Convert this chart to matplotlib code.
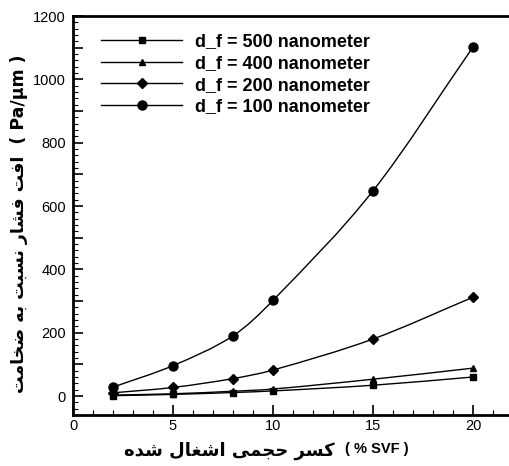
import matplotlib
matplotlib.use("Agg")
import matplotlib.pyplot as plt
from matplotlib.ticker import MultipleLocator, FuncFormatter
from matplotlib import font_manager
from matplotlib.ft2font import FT2Font
from matplotlib.path import Path
from matplotlib.patches import PathPatch
from matplotlib.lines import Line2D

# ---------------- data ----------------
svf = [2, 5, 8, 10, 15, 20]
dp_500 = [1, 5, 11, 16, 34, 60]
dp_400 = [3, 7, 15, 22, 53, 88]
dp_200 = [10, 27, 55, 82, 180, 312]
dp_100 = [28, 96, 190, 302, 648, 1102]
labels = ["d_f = 500 nanometer", "d_f = 400 nanometer",
          "d_f = 200 nanometer", "d_f = 100 nanometer"]
xlabel_fa = "کسر حجمی اشغال شده"
xlabel_en = "( % SVF )"
ylabel_fa = "افت فشار نسبت به ضخامت"
ylabel_en = "( Pa/µm )"

# ------------- minimal Arabic/Persian shaping -------------
bold_path = font_manager.findfont(font_manager.FontProperties(family="DejaVu Sans", weight="bold"))
try:
    cmap = FT2Font(bold_path).get_charmap()
except Exception:
    cmap = {}

def has(ch):
    return ord(ch) in cmap

# (isolated, final, initial, medial)
FORMS = {
    'ا': ('\uFE8D', '\uFE8E', None, None),
    'ب': ('\uFE8F', '\uFE90', '\uFE91', '\uFE92'),
    'ت': ('\uFE95', '\uFE96', '\uFE97', '\uFE98'),
    'ج': ('\uFE9D', '\uFE9E', '\uFE9F', '\uFEA0'),
    'ح': ('\uFEA1', '\uFEA2', '\uFEA3', '\uFEA4'),
    'خ': ('\uFEA5', '\uFEA6', '\uFEA7', '\uFEA8'),
    'د': ('\uFEA9', '\uFEAA', None, None),
    'ر': ('\uFEAD', '\uFEAE', None, None),
    'س': ('\uFEB1', '\uFEB2', '\uFEB3', '\uFEB4'),
    'ش': ('\uFEB5', '\uFEB6', '\uFEB7', '\uFEB8'),
    'ض': ('\uFEBD', '\uFEBE', '\uFEBF', '\uFEC0'),
    'غ': ('\uFECD', '\uFECE', '\uFECF', '\uFED0'),
    'ف': ('\uFED1', '\uFED2', '\uFED3', '\uFED4'),
    'ل': ('\uFEDD', '\uFEDE', '\uFEDF', '\uFEE0'),
    'م': ('\uFEE1', '\uFEE2', '\uFEE3', '\uFEE4'),
    'ن': ('\uFEE5', '\uFEE6', '\uFEE7', '\uFEE8'),
    'ه': ('\uFEE9', '\uFEEA', '\uFEEB', '\uFEEC'),
    'ک': ('\uFB8E', '\uFB8F', '\uFB90', '\uFB91'),
    'ی': ('\uFBFC', '\uFBFD', '\uFBFE', '\uFBFF'),
}
FALLBACK = {
    'ک': ('\uFED9', '\uFEDA', '\uFEDB', '\uFEDC'),
    'ی': ('\uFEEF', '\uFEF0', '\uFEF3', '\uFEF4'),
}
for k, v in FALLBACK.items():
    if not all(has(c) for c in FORMS[k]):
        FORMS[k] = v

def dual(ch):
    return ch in FORMS and FORMS[ch][2] is not None

def shape_rtl(text):
    out = []
    n = len(text)
    for i, ch in enumerate(text):
        if ch not in FORMS:
            out.append(ch)
            continue
        prev_j = i > 0 and dual(text[i - 1])
        next_j = dual(ch) and i + 1 < n and text[i + 1] in FORMS
        iso, fin, ini, med = FORMS[ch]
        if prev_j and next_j:
            g = med
        elif prev_j:
            g = fin
        elif next_j:
            g = ini
        else:
            g = iso
        out.append(g)
    return "".join(out)[::-1]

# smooth cubic Hermite path (in x) through the data points, as Bezier segments
def smooth_path(xs, ys):
    n = len(xs)
    slopes = []
    for i in range(n):
        if i == 0:
            m = (ys[1] - ys[0]) / (xs[1] - xs[0])
        elif i == n - 1:
            m = (ys[-1] - ys[-2]) / (xs[-1] - xs[-2])
        else:
            m = (ys[i + 1] - ys[i - 1]) / (xs[i + 1] - xs[i - 1])
        slopes.append(m)
    verts = [(xs[0], ys[0])]
    codes = [Path.MOVETO]
    for i in range(n - 1):
        h = xs[i + 1] - xs[i]
        c1 = (xs[i] + h / 3.0, ys[i] + slopes[i] * h / 3.0)
        c2 = (xs[i + 1] - h / 3.0, ys[i + 1] - slopes[i + 1] * h / 3.0)
        verts += [c1, c2, (xs[i + 1], ys[i + 1])]
        codes += [Path.CURVE4] * 3
    return Path(verts, codes)

# ---------------- figure ----------------
plt.rcParams['font.family'] = ['Liberation Sans', 'DejaVu Sans']
fig = plt.figure(figsize=(5.09, 4.66), dpi=100)
ax = fig.add_axes([73 / 509, 1 - 415 / 466, 1 - 73 / 509, (415 - 16) / 466])

series = [(dp_500, 's', 4.8), (dp_400, '^', 5.0), (dp_200, 'D', 4.6), (dp_100, 'o', 6.5)]
handles = []
for (vals, mk, ms), lab in zip(series, labels):
    ax.add_patch(PathPatch(smooth_path(svf, vals), facecolor='none',
                           edgecolor='black', lw=1.0))
    ax.plot(svf, vals, linestyle='none', marker=mk, markersize=ms,
            markerfacecolor='black', markeredgecolor='black')
    handles.append(Line2D([], [], color='black', lw=1.0, marker=mk, markersize=ms,
                          markerfacecolor='black', markeredgecolor='black', label=lab))

ax.set_xlim(0, 21.8)
ax.set_ylim(-60, 1200)
ax.xaxis.set_major_locator(MultipleLocator(5))
ax.xaxis.set_minor_locator(MultipleLocator(1))
ax.yaxis.set_major_locator(MultipleLocator(100))
ax.yaxis.set_minor_locator(MultipleLocator(20))
ax.yaxis.set_major_formatter(FuncFormatter(lambda v, p: f"{int(round(v))}" if int(round(v)) % 200 == 0 else ""))
ax.tick_params(which='both', direction='in', top=False, right=False, labelsize=10.5, colors='black')
ax.tick_params(which='major', length=7, width=1.2)
ax.tick_params(which='minor', length=3.5, width=0.8)
ax.tick_params(axis='x', pad=3)
ax.tick_params(axis='y', pad=5)
ax.spines['right'].set_visible(False)
for s in ('left', 'bottom', 'top'):
    ax.spines[s].set_linewidth(2.0)

leg = ax.legend(handles=handles, loc='upper left', bbox_to_anchor=(28 / 436, 0.956), frameon=False,
                prop={'family': 'Liberation Sans', 'weight': 'bold', 'size': 13},
                handlelength=4.5, handletextpad=0.7, labelspacing=0.25, borderpad=0.0,
                borderaxespad=0.0)

# x axis title: Persian part + Latin part
fig.text(335 / 509, 1 - 451 / 466, shape_rtl(xlabel_fa), ha='right', va='center',
         fontsize=13, fontweight='bold', family=['DejaVu Sans'])
fig.text(345 / 509, 1 - 449 / 466, xlabel_en, ha='left', va='center',
         fontsize=10.5, fontweight='bold', family=['Liberation Sans'])

# y axis title
y_label = shape_rtl(ylabel_fa) + "  " + ylabel_en
ax.set_ylabel(y_label, fontsize=12.5, fontweight='bold', family=['DejaVu Sans'])
ax.yaxis.set_label_coords((28 - 73) / 436, (415 - 224) / 399)

fig.savefig("out.png", dpi=100)
